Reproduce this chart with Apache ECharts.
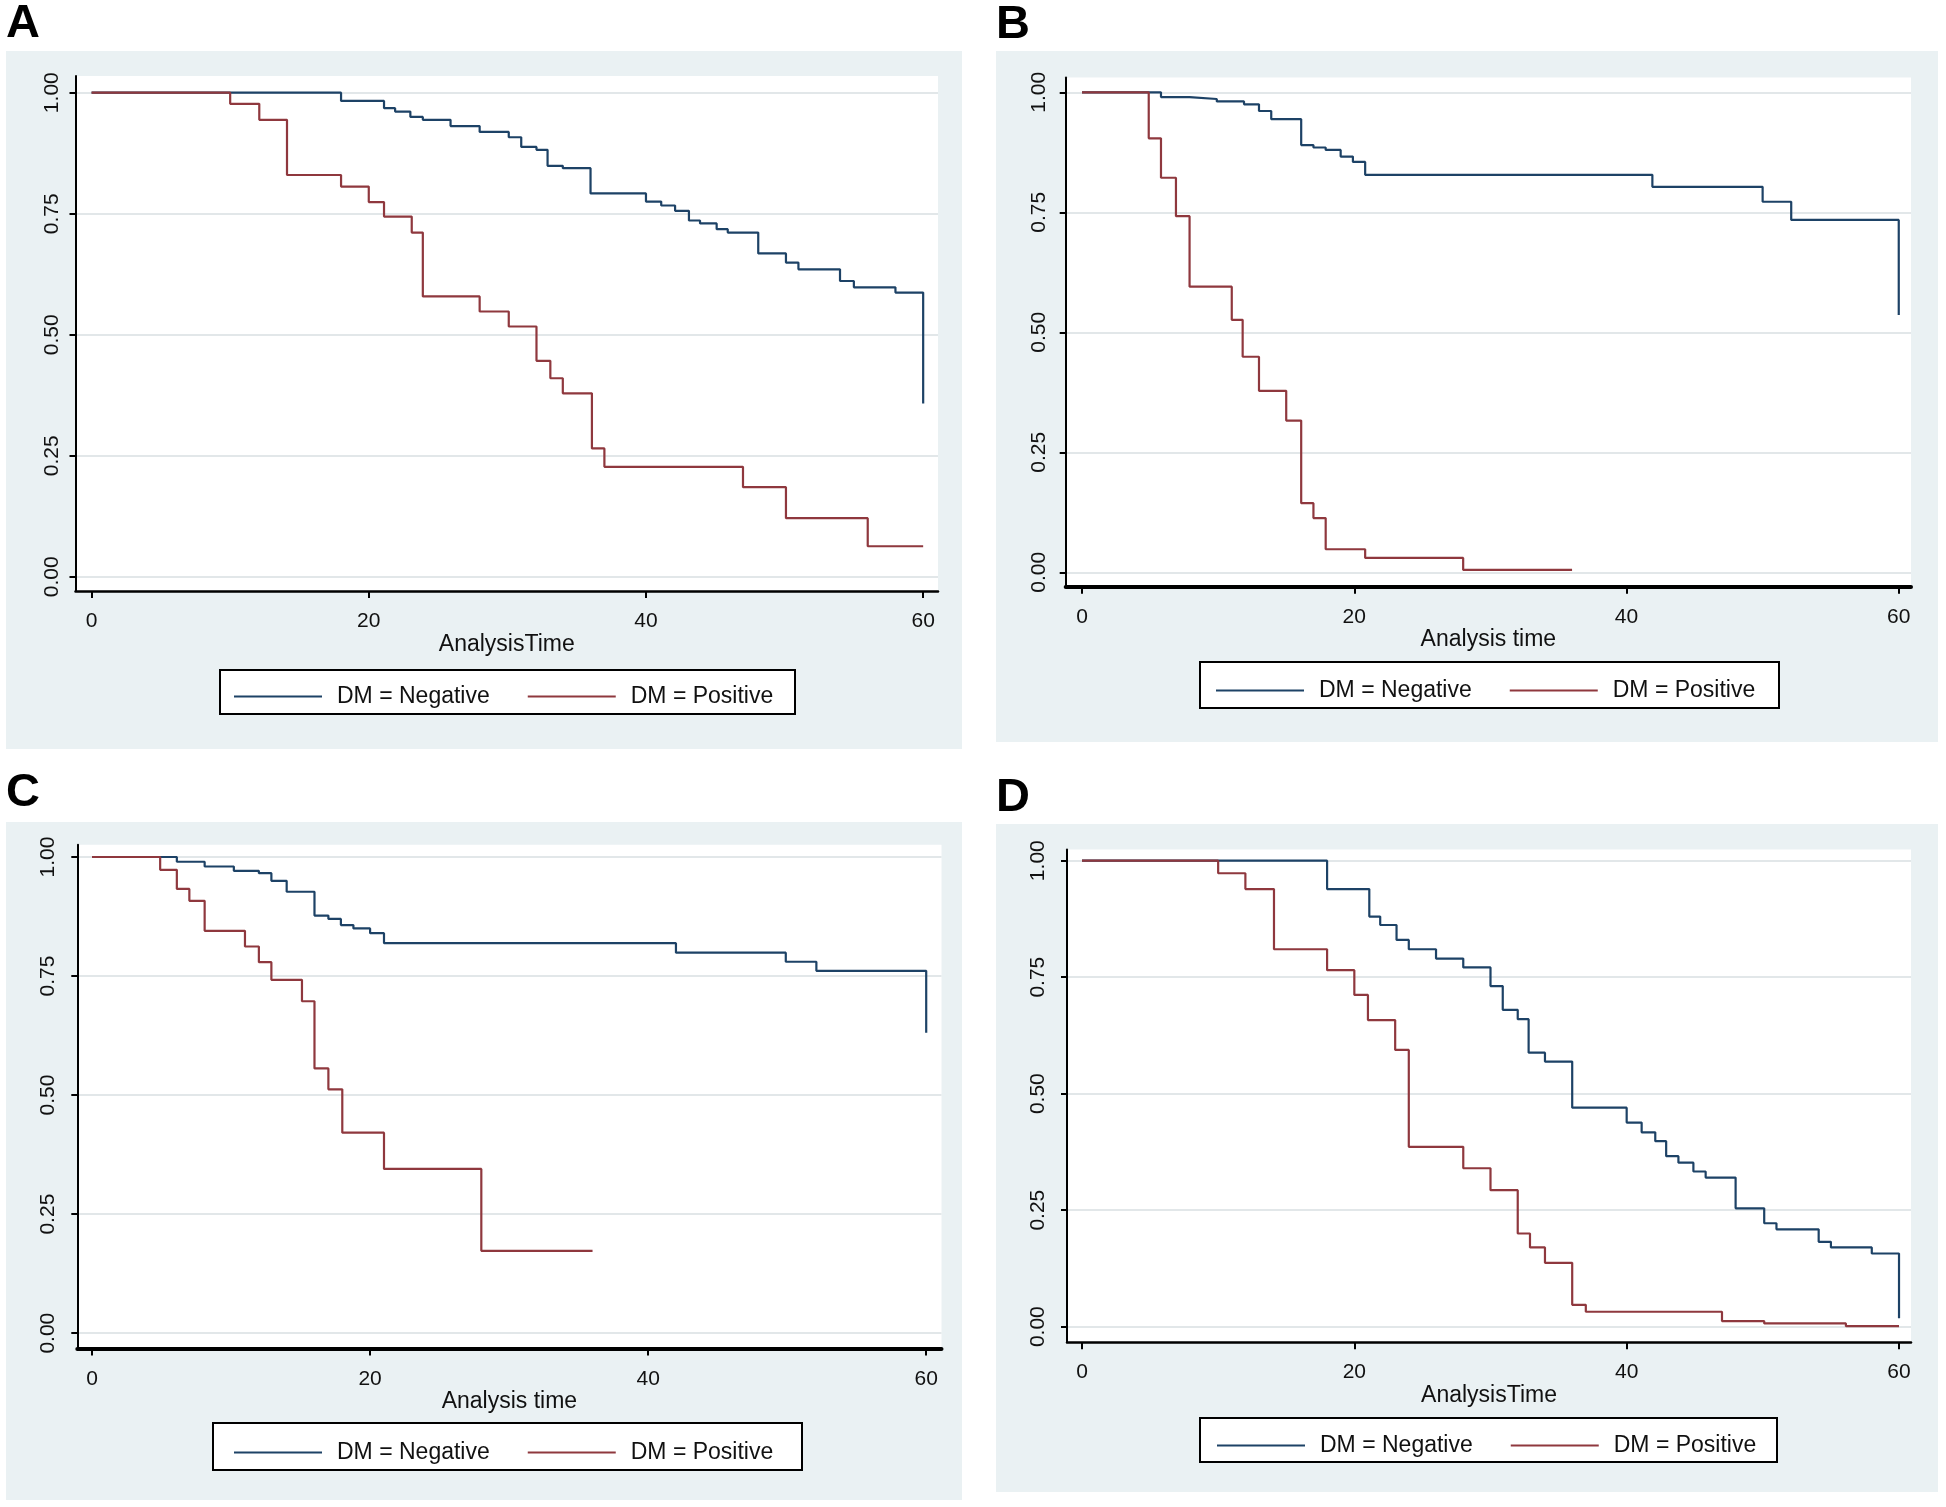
<!DOCTYPE html>
<html>
<head>
<meta charset="utf-8">
<script src="https://cdn.jsdelivr.net/npm/echarts@6/dist/echarts.min.js"></script>
<style>html,body{margin:0;padding:0;background:#fff}#chart{width:1946px;height:1507px}</style>
</head>
<body>
<div id="chart"></div>
<script>
// ---------- data ----------
const xTicks = [0, 20, 40, 60];
const yTicks = [0, 0.25, 0.5, 0.75, 1];
const seriesNames = ['DM = Negative', 'DM = Positive'];
const panelLetters = ['A', 'B', 'C', 'D'];
const axisTitles = ['AnalysisTime', 'Analysis time', 'Analysis time', 'AnalysisTime'];

// Kaplan-Meier steps: [time, survival]
const aNegative = [[0,1],[18,0.983],[21.1,0.968],[21.9,0.961],[23,0.95],[23.9,0.944],[25.9,0.931],[28,0.919],[30.1,0.908],[31,0.888],[32.1,0.882],[32.9,0.849],[34,0.844],[36,0.792],[40,0.775],[41.1,0.767],[42.1,0.756],[43.1,0.736],[43.9,0.73],[45.1,0.718],[45.9,0.711],[48.1,0.668],[50.1,0.649],[51,0.635],[54,0.611],[55,0.598],[58,0.587],[60,0.358]];
const aPositive = [[0,1],[10,0.977],[12.1,0.944],[14.1,0.83],[18,0.806],[20,0.774],[21.1,0.744],[23.1,0.711],[23.9,0.579],[28,0.548],[30.1,0.517],[32.1,0.446],[33.1,0.41],[34,0.379],[36.1,0.265],[37,0.227],[47,0.185],[50.1,0.121],[56,0.063],[60,0.063]];
const bNegative = [[0,1],[5.8,0.99],[7.9,0.986],[9.9,0.981],[11.9,0.975],[13,0.961],[13.9,0.944],[16.1,0.89],[17,0.885],[17.9,0.88],[19,0.866],[19.9,0.855],[20.8,0.828],[41.9,0.803],[50,0.772],[52.1,0.734],[60,0.536]];
const bPositive = [[0,1],[4.9,0.904],[5.8,0.822],[6.9,0.742],[7.9,0.595],[11,0.526],[11.8,0.449],[13,0.378],[15,0.316],[16.1,0.144],[17,0.113],[17.9,0.048],[20.8,0.03],[28,0.005],[36,0.005]];
const cNegative = [[0,1],[6.1,0.99],[8.1,0.98],[10.2,0.971],[12,0.966],[12.9,0.95],[14,0.927],[16,0.877],[17,0.87],[17.9,0.857],[18.8,0.85],[20,0.84],[21,0.819],[42,0.799],[49.9,0.78],[52.1,0.761],[60,0.631]];
const cPositive = [[0,1],[4.9,0.973],[6.1,0.933],[7,0.908],[8.1,0.845],[11,0.812],[12,0.779],[12.9,0.742],[15.1,0.697],[16,0.556],[17,0.512],[18,0.421],[21,0.345],[28,0.173],[36,0.173]];
const dNegative = [[0,1],[18,0.939],[21.1,0.88],[21.9,0.862],[23.1,0.83],[24,0.81],[26,0.79],[28,0.771],[30,0.731],[30.9,0.68],[32,0.66],[32.8,0.588],[34,0.569],[36,0.47],[40,0.438],[41.1,0.417],[42.1,0.398],[42.9,0.366],[43.8,0.352],[44.9,0.333],[45.8,0.32],[48,0.254],[50.1,0.222],[51,0.209],[54.1,0.182],[55,0.17],[58,0.157],[60,0.018]];
const dPositive = [[0,1],[10,0.973],[12,0.939],[14.1,0.81],[18,0.765],[20,0.712],[21,0.658],[23,0.594],[24,0.386],[28,0.34],[30,0.293],[32,0.2],[32.9,0.17],[34,0.137],[36,0.047],[37,0.032],[47,0.012],[50.1,0.007],[56.1,0.001],[60,0.001]];

const panelData = [[aNegative, aPositive], [bNegative, bPositive], [cNegative, cPositive], [dNegative, dPositive]];

// ---------- layout & style ----------
const FONT = '"Liberation Sans", Arial, sans-serif';
const COLORS = ['#1d4266', '#8f383e'];
const layout = [
  {bg:[6,51,956,698], letter:[6,24], grid:[75.5,76,862.5,515], x:[-1.16,61.07], y:[-0.0295,1.0345], xw:2.5, ylm:13, ng:38, box:[220,670,575,44], ll:229, lcy:692},
  {bg:[996,51,942,691], letter:[996,25.5], grid:[1065.7,77.6,845.3,509.1], x:[-1.2,60.9], y:[-0.030,1.0306], xw:4, ylm:16, ng:38, box:[1200,662,579,46], ll:1211, lcy:686},
  {bg:[6,822,956,678], letter:[6,793], grid:[77.3,844.8,864.2,503.6], x:[-1.06,61.1], y:[-0.032,1.0256], xw:4, ylm:19, ng:37, box:[213,1423,589,47], ll:229, lcy:1448},
  {bg:[996,824,942,668], letter:[996,798], grid:[1067,849.6,844,492.6], x:[-1.10,60.88], y:[-0.0333,1.0238], xw:2.5, ylm:18, ng:37.5, box:[1200,1418,577,44], ll:1212, lcy:1441}
];

const grids = [], xAxes = [], yAxes = [], series = [], legends = [], graphics = [];
layout.forEach((L, i) => {
  graphics.push({type:'rect', z:-100, shape:{x:L.bg[0], y:L.bg[1], width:L.bg[2], height:L.bg[3]}, style:{fill:'#eaf1f3'}});
  graphics.push({type:'text', z:10, x:L.letter[0], y:L.letter[1], style:{text:panelLetters[i], font:'bold 47px ' + FONT, fill:'#000', verticalAlign:'middle', align:'left'}});
  graphics.push({type:'rect', z:1, shape:{x:L.box[0], y:L.box[1], width:L.box[2], height:L.box[3]}, style:{fill:'#fff', stroke:'#000', lineWidth:2}});
  grids.push({left:L.grid[0], top:L.grid[1], width:L.grid[2], height:L.grid[3], show:true, backgroundColor:'#fff', borderWidth:0, containLabel:false});
  xAxes.push({
    type:'value', gridIndex:i, min:L.x[0], max:L.x[1],
    axisLine:{show:true, onZero:false, lineStyle:{color:'#000', width:L.xw}},
    axisTick:{show:true, customValues:xTicks, length:7, lineStyle:{color:'#000', width:2}},
    axisLabel:{customValues:xTicks, margin:20, fontSize:21, color:'#111', fontFamily:FONT},
    splitLine:{show:false},
    name:axisTitles[i], nameLocation:'middle', nameGap:L.ng,
    nameTextStyle:{fontSize:23, color:'#111', fontFamily:FONT}
  });
  yAxes.push({
    type:'value', gridIndex:i, min:L.y[0], max:L.y[1],
    axisLine:{show:true, onZero:false, lineStyle:{color:'#000', width:2}},
    axisTick:{show:true, customValues:yTicks, length:6, lineStyle:{color:'#000', width:2}},
    axisLabel:{customValues:yTicks, rotate:90, margin:L.ylm, fontSize:21, color:'#111', fontFamily:FONT,
      formatter:v => Number(v).toFixed(2)},
    splitLine:{show:true, customValues:yTicks, lineStyle:{color:'#e2e7e9', width:2}}
  });
  panelData[i].forEach((d, k) => {
    series.push({
      type:'line', name:seriesNames[k], xAxisIndex:i, yAxisIndex:i, data:d, step:'end',
      showSymbol:false, symbol:'none', color:COLORS[k],
      lineStyle:{color:COLORS[k], width:2.2}, z:3
    });
  });
  legends.push({
    left:L.ll, top:L.lcy - 12, orient:'horizontal', icon:'rect', itemWidth:88, itemHeight:2, itemGap:38,
    selectedMode:false, data:seriesNames,
    textStyle:{fontSize:23, color:'#111', fontFamily:FONT, padding:[0,0,0,10]}
  });
});

const chart = echarts.init(document.getElementById('chart'), null, {renderer:'canvas'});
chart.setOption({
  animation:false,
  backgroundColor:'#ffffff',
  grid:grids, xAxis:xAxes, yAxis:yAxes, series:series, legend:legends, graphic:graphics
});
</script>
</body>
</html>
